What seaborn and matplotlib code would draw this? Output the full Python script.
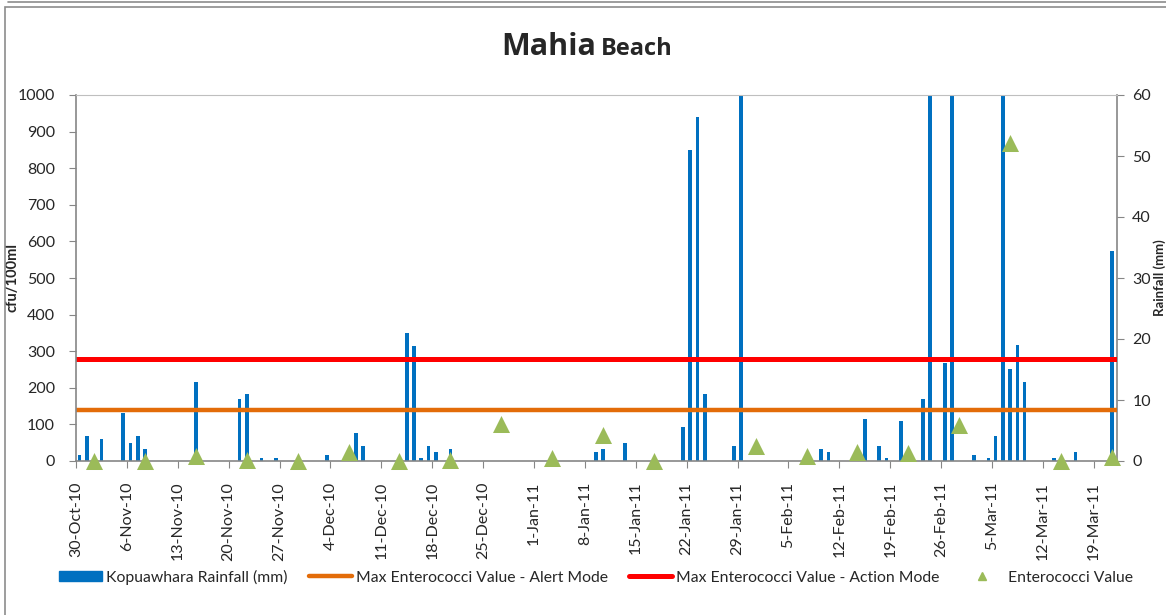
import numpy as np
import pandas as pd
import matplotlib
matplotlib.use("Agg")
import matplotlib.pyplot as plt
import matplotlib.dates as mdates
from matplotlib.lines import Line2D
from matplotlib.patches import Patch, Rectangle
import seaborn as sns

# ---------------- data ----------------
rain_dates = ["2010-10-30", "2010-10-31", "2010-11-02", "2010-11-05", "2010-11-06",
              "2010-11-07", "2010-11-08", "2010-11-15", "2010-11-21", "2010-11-22",
              "2010-11-24", "2010-11-26", "2010-12-03", "2010-12-07", "2010-12-08",
              "2010-12-14", "2010-12-15", "2010-12-16", "2010-12-17", "2010-12-18",
              "2010-12-20", "2011-01-09", "2011-01-10", "2011-01-13", "2011-01-21",
              "2011-01-22", "2011-01-23", "2011-01-24", "2011-01-28", "2011-01-29",
              "2011-02-09", "2011-02-10", "2011-02-15", "2011-02-17", "2011-02-18",
              "2011-02-20", "2011-02-23", "2011-02-24", "2011-02-26", "2011-02-27",
              "2011-03-02", "2011-03-04", "2011-03-05", "2011-03-06", "2011-03-07",
              "2011-03-08", "2011-03-09", "2011-03-13", "2011-03-16", "2011-03-21"]
rain_mm = [1.0, 4.1, 3.6, 7.9, 3.0,
           4.1, 2.0, 13.0, 10.2, 11.0,
           0.5, 0.5, 1.0, 4.6, 2.4,
           21.0, 18.9, 0.5, 2.4, 1.5,
           2.0, 1.5, 2.0, 3.0, 5.5,
           51.0, 56.4, 11.0, 2.4, 75.0,
           2.0, 1.5, 6.9, 2.4, 0.5,
           6.6, 10.2, 68.0, 16.0, 80.0,
           1.0, 0.5, 4.1, 90.0, 15.1,
           19.0, 13.0, 0.5, 1.5, 34.5]

entero_dates = ["2010-11-01", "2010-11-08", "2010-11-15", "2010-11-22", "2010-11-29",
                "2010-12-06", "2010-12-13", "2010-12-20", "2010-12-27", "2011-01-03",
                "2011-01-10", "2011-01-17", "2011-01-31", "2011-02-07", "2011-02-14",
                "2011-02-21", "2011-02-28", "2011-03-07", "2011-03-14", "2011-03-21"]
entero_cfu = [1, 1, 13, 2, 1, 25, 1, 2, 100, 7,
              70, 1, 40, 15, 25, 22, 97, 868, 1, 11]

alert_level = 140
action_level = 280

tick_dates = pd.date_range("2010-10-30", "2011-03-19", freq="7D")

# ---------------- styling ----------------
sns.set_style("white")
plt.rcParams["font.family"] = ["Lato", "DejaVu Sans"]

BLUE = "#0070C0"
ORANGE = "#E36C09"
RED = "#FF0000"
GREEN = "#9BBB59"
AXIS_GREY = "#868686"

half_day = pd.Timedelta(hours=12)
rain_df = pd.DataFrame({"date": pd.to_datetime(rain_dates) + half_day, "rain": rain_mm})
ent_df = pd.DataFrame({"date": pd.to_datetime(entero_dates) + half_day, "cfu": entero_cfu})

fig = plt.figure(figsize=(11.66, 6.15), dpi=100)
ax = fig.add_axes([76 / 1166, 1 - 461 / 615, (1117 - 76) / 1166, (461 - 95) / 615])
ax2 = ax.twinx()

# rainfall bars underneath
ax2.bar(rain_df["date"], rain_df["rain"], width=0.5, color=BLUE, linewidth=0, zorder=2)
ax2.set_ylim(0, 60)
ax2.set_yticks(np.arange(0, 61, 10))
ax2.set_ylabel("Rainfall (mm)", fontsize=9.5, fontweight="bold")
ax2.yaxis.set_label_coords((1153 - 76) / 1041, 0.5)
ax2.set_facecolor("#F2F2F2")
ax.set_zorder(ax2.get_zorder() + 1)
ax.patch.set_visible(False)

# guideline values and enterococci on primary axis
x0 = pd.Timestamp("2010-10-30")
x1 = x0 + pd.Timedelta(days=143.2)
line_df = pd.DataFrame({"date": [x0, x1, x0, x1],
                        "level": [alert_level, alert_level, action_level, action_level],
                        "kind": ["alert", "alert", "action", "action"]})
sns.lineplot(data=line_df[line_df.kind == "alert"], x="date", y="level", ax=ax,
             color=ORANGE, linewidth=3.2, legend=False)
sns.lineplot(data=line_df[line_df.kind == "action"], x="date", y="level", ax=ax,
             color=RED, linewidth=3.6, legend=False)
sns.scatterplot(data=ent_df, x="date", y="cfu", ax=ax, marker="^", s=150,
                color=GREEN, edgecolor=GREEN, linewidth=0, zorder=5, clip_on=False)

ax.set_xlim(x0, x1)
ax.set_ylim(0, 1000)
ax.set_yticks(np.arange(0, 1001, 100))
ax.set_xticks(tick_dates)
ax.xaxis.set_major_formatter(mdates.DateFormatter("%-d-%b-%y"))
ax.set_xlabel("")
ax.set_ylabel("cfu/100ml", fontsize=10.5, fontweight="bold")
ax.yaxis.set_label_coords((19 - 76) / 1041, 0.5)

for a in (ax, ax2):
    for s in a.spines.values():
        s.set_visible(False)
ax.spines["left"].set_visible(True)
ax.spines["bottom"].set_visible(True)
ax2.spines["right"].set_visible(True)
for s in (ax.spines["left"], ax.spines["bottom"], ax2.spines["right"]):
    s.set_color(AXIS_GREY)
    s.set_linewidth(1.2)
ax.spines["top"].set_visible(True)
ax.spines["top"].set_color("#BFBFBF")

ax.tick_params(axis="x", rotation=90, labelsize=11.5, length=5, color=AXIS_GREY,
               direction="out", bottom=True, pad=10)
ax.tick_params(axis="y", labelsize=11.5, length=5, color=AXIS_GREY, direction="out",
               left=True, pad=10)
ax2.tick_params(axis="y", labelsize=11.5, length=5, color=AXIS_GREY, direction="out",
                right=True, pad=6)

# title with two sizes
fig.text(596 / 1166, 1 - 55 / 615, "Mahia", ha="right", va="baseline",
         fontsize=22, fontweight="bold", family=["Open Sans", "DejaVu Sans"])
fig.text(601 / 1166, 1 - 55 / 615, "Beach", ha="left", va="baseline",
         fontsize=17, fontweight="bold", family=["Open Sans", "DejaVu Sans"])

# legend
handles = [Patch(facecolor=BLUE, edgecolor=BLUE),
           Line2D([0], [0], color=ORANGE, linewidth=3.2),
           Line2D([0], [0], color=RED, linewidth=3.6),
           Line2D([0], [0], marker="^", color=GREEN, linestyle="none", markersize=6)]
labels = ["Kopuawhara Rainfall (mm)", "Max Enterococci Value - Alert Mode",
          "Max Enterococci Value - Action Mode", "Enterococci Value"]
fig.legend(handles, labels, loc="center", bbox_to_anchor=(596 / 1166, 1 - 577 / 615),
           ncol=4, frameon=False, fontsize=11.3, handlelength=2.75, handleheight=0.6,
           handletextpad=0.25, columnspacing=1.35)

# chart borders
fig.patches.append(Rectangle((5 / 1166, -0.1), 1.2, 1 - 7 / 615 + 0.1,
                             transform=fig.transFigure, fill=False,
                             edgecolor="#8C8C8C", linewidth=1.2))
fig.lines.append(Line2D([8 / 1166, 1], [1 - 2 / 615, 1 - 2 / 615],
                        transform=fig.transFigure, color="#8C8C8C", linewidth=1.2))

fig.savefig("out.png", dpi=100)
